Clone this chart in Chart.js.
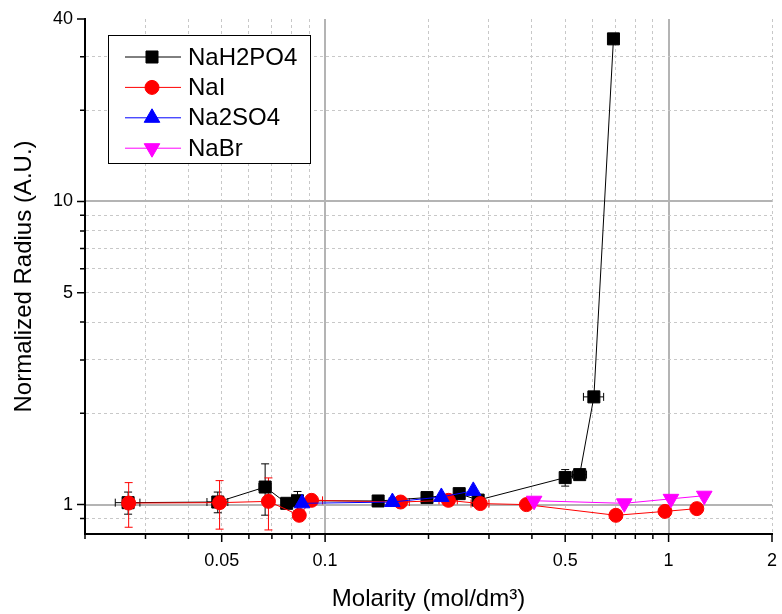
<!DOCTYPE html>
<html lang="en">
<head>
<meta charset="utf-8">
<title>Normalized Radius vs Molarity</title>
<script src="https://cdn.jsdelivr.net/npm/chart.js@4.4.1/dist/chart.umd.min.js"></script>
<style>
  html, body { margin: 0; padding: 0; background: #fff; }
  #box { width: 782px; height: 614px; }
</style>
</head>
<body>
<div id="box"><canvas id="radiusChart"></canvas></div>
<script>
// Ticks dos eixos (escala log)
const xTickValues = [0.02, 0.03, 0.04, 0.05, 0.06, 0.07, 0.08, 0.09, 0.1, 0.2, 0.3, 0.4, 0.5, 0.6, 0.7, 0.8, 0.9, 1, 2];
const xLabeled = [0.05, 0.1, 0.5, 1, 2];
const xDecades = [0.1, 1];
const yTickValues = [0.9, 1, 2, 3, 4, 5, 6, 7, 8, 9, 10, 20, 30, 40];
const yLabeled = [1, 5, 10, 40];
const yDecades = [1, 10];

// NaH2PO4
const naH2PO4X = [0.0267, 0.0487, 0.0669, 0.0773, 0.0831, 0.1427, 0.198, 0.2457, 0.279, 0.500, 0.551, 0.606, 0.691];
const naH2PO4Y = [1.015, 1.02, 1.143, 1.01, 1.03, 1.028, 1.055, 1.087, 1.035, 1.228, 1.256, 2.267, 34.4];
const naH2PO4XErr = [0.0022, 0.0034, 0.0027, 0, 0.002, 0, 0, 0, 0, 0, 0.026, 0.041, 0];
const naH2PO4YErr = [0.085, 0.08, 0.22, 0, 0.075, 0, 0, 0, 0, 0.077, 0, 0, 0];

// NaI
const naIX = [0.0268, 0.0493, 0.0684, 0.0841, 0.0913, 0.1659, 0.2286, 0.283, 0.3855, 0.7025, 0.976, 1.208];
const naIY = [1.012, 1.015, 1.025, 0.922, 1.033, 1.02, 1.033, 1.008, 1.0, 0.922, 0.95, 0.97];
const naIXErr = [0, 0, 0, 0, 0.007, 0.010, 0.014, 0.017, 0.006, 0, 0, 0];
const naIYErr = [0.17, 0.185, 0.2, 0, 0, 0, 0, 0, 0, 0, 0, 0];

// Na2SO4
const na2SO4X = [0.0857, 0.157, 0.218, 0.270];
const na2SO4Y = [1.01, 1.02, 1.06, 1.11];
const na2SO4XErr = [0, 0, 0, 0];
const na2SO4YErr = [0, 0.03, 0, 0];

// NaBr
const naBrX = [0.406, 0.743, 1.016, 1.27];
const naBrY = [1.03, 1.01, 1.045, 1.07];
const naBrXErr = [0, 0, 0, 0];
const naBrYErr = [0, 0, 0, 0];

const FONT = '"Liberation Sans", Arial, sans-serif';

function toPoints(xs, ys) {
    return xs.map((v, i) => ({ x: v, y: ys[i] }));
}

// Barras de erro desenhadas com as escalas do grafico
const errorBarsPlugin = {
    id: 'errorBars',
    beforeDatasetsDraw(chart) {
        const { ctx, scales: { x, y } } = chart;
        const cap = 4;
        ctx.save();
        ctx.lineWidth = 1;
        chart.data.datasets.forEach(ds => {
            ctx.strokeStyle = ds.borderColor;
            ctx.beginPath();
            ds.data.forEach((p, i) => {
                const px = x.getPixelForValue(p.x);
                const py = y.getPixelForValue(p.y);
                const ex = ds.errX[i];
                const ey = ds.errY[i];
                if (ex) {
                    const x1 = x.getPixelForValue(p.x - ex);
                    const x2 = x.getPixelForValue(p.x + ex);
                    ctx.moveTo(x1, py); ctx.lineTo(x2, py);
                    ctx.moveTo(x1, py - cap); ctx.lineTo(x1, py + cap);
                    ctx.moveTo(x2, py - cap); ctx.lineTo(x2, py + cap);
                }
                if (ey) {
                    const y1 = y.getPixelForValue(p.y + ey);
                    const y2 = y.getPixelForValue(p.y - ey);
                    ctx.moveTo(px, y1); ctx.lineTo(px, y2);
                    ctx.moveTo(px - cap, y1); ctx.lineTo(px + cap, y1);
                    ctx.moveTo(px - cap, y2); ctx.lineTo(px + cap, y2);
                }
            });
            ctx.stroke();
        });
        ctx.restore();
    }
};

// Marcas dos ticks (maiores nos valores com rotulo)
const tickMarksPlugin = {
    id: 'tickMarks',
    afterDraw(chart) {
        const { ctx, chartArea, scales: { x, y } } = chart;
        ctx.save();
        ctx.strokeStyle = '#000';
        ctx.lineWidth = 1.5;
        ctx.beginPath();
        x.ticks.forEach(t => {
            const px = x.getPixelForValue(t.value);
            const len = xLabeled.includes(t.value) ? 8 : 5;
            ctx.moveTo(px, chartArea.bottom);
            ctx.lineTo(px, chartArea.bottom + len);
        });
        y.ticks.forEach(t => {
            const py = y.getPixelForValue(t.value);
            const len = yLabeled.includes(t.value) ? 8 : 5;
            ctx.moveTo(chartArea.left, py);
            ctx.lineTo(chartArea.left - len, py);
        });
        ctx.stroke();
        ctx.restore();
    }
};

// Legenda em caixa dentro da area do grafico
const boxLegendPlugin = {
    id: 'boxLegend',
    afterDatasetsDraw(chart) {
        const { ctx, chartArea } = chart;
        const left = chartArea.left + 23;
        const top = chartArea.top + 16;
        ctx.save();
        ctx.fillStyle = '#fff';
        ctx.fillRect(left, top, 202, 128);
        ctx.strokeStyle = '#000';
        ctx.lineWidth = 1;
        ctx.strokeRect(left + 0.5, top + 0.5, 202, 128);
        ctx.font = '24px ' + FONT;
        ctx.textBaseline = 'middle';
        chart.data.datasets.forEach((ds, i) => {
            const yy = top + 22 + i * 30.4;
            ctx.strokeStyle = ds.borderColor;
            ctx.lineWidth = 1;
            ctx.beginPath();
            ctx.moveTo(left + 17, yy);
            ctx.lineTo(left + 73, yy);
            ctx.stroke();
            ctx.fillStyle = ds.backgroundColor;
            Chart.helpers.drawPoint(ctx, {
                pointStyle: ds.pointStyle,
                radius: ds.pointRadius,
                rotation: ds.pointRotation || 0,
                borderWidth: 1
            }, left + 44, yy);
            ctx.fillStyle = '#000';
            ctx.fillText(ds.label, left + 80, yy + 1);
        });
        ctx.restore();
    }
};

function gridColor(decades, hidden) {
    return ctx => {
        if (!ctx.tick) return 'rgba(0,0,0,0)';
        const v = ctx.tick.value;
        if (hidden.includes(v)) return 'rgba(0,0,0,0)';
        return decades.includes(v) ? '#b4b4b4' : '#c8c8c8';
    };
}

function gridWidth(decades) {
    return ctx => (ctx.tick && decades.includes(ctx.tick.value)) ? 2 : 1;
}

function gridDash(decades) {
    return ctx => (ctx.tick && !decades.includes(ctx.tick.value)) ? [3, 3] : [];
}

Chart.defaults.font.family = FONT;
Chart.defaults.color = '#000';

const ctx = document.getElementById('radiusChart').getContext('2d');

new Chart(ctx, {
    type: 'scatter',
    data: {
        datasets: [
            {
                label: 'NaH2PO4',
                data: toPoints(naH2PO4X, naH2PO4Y),
                errX: naH2PO4XErr,
                errY: naH2PO4YErr,
                borderColor: '#000000',
                backgroundColor: '#000000',
                pointStyle: 'rect',
                pointRadius: 8.5,
                order: 4
            },
            {
                label: 'NaI',
                data: toPoints(naIX, naIY),
                errX: naIXErr,
                errY: naIYErr,
                borderColor: '#ff0000',
                backgroundColor: '#ff0000',
                pointStyle: 'circle',
                pointRadius: 7,
                order: 3
            },
            {
                label: 'Na2SO4',
                data: toPoints(na2SO4X, na2SO4Y),
                errX: na2SO4XErr,
                errY: na2SO4YErr,
                borderColor: '#0000ff',
                backgroundColor: '#0000ff',
                pointStyle: 'triangle',
                pointRadius: 9,
                order: 2
            },
            {
                label: 'NaBr',
                data: toPoints(naBrX, naBrY),
                errX: naBrXErr,
                errY: naBrYErr,
                borderColor: '#ff00ff',
                backgroundColor: '#ff00ff',
                pointStyle: 'triangle',
                pointRotation: 180,
                pointRadius: 9,
                order: 1
            }
        ].map(ds => Object.assign({
            showLine: true,
            borderWidth: 1,
            pointBorderWidth: 1,
            pointBackgroundColor: ds.backgroundColor,
            pointBorderColor: ds.borderColor,
            pointHoverRadius: ds.pointRadius,
            tension: 0
        }, ds))
    },
    plugins: [errorBarsPlugin, tickMarksPlugin, boxLegendPlugin],
    options: {
        responsive: true,
        maintainAspectRatio: false,
        animation: false,
        layout: { padding: { top: 19, right: 7, left: 0, bottom: 0 } },
        scales: {
            x: {
                type: 'logarithmic',
                min: 0.02,
                max: 2,
                afterBuildTicks: scale => {
                    scale.ticks = xTickValues.map(v => ({ value: v }));
                },
                afterFit: scale => {
                    scale.height = 80;
                    scale.paddingLeft = 0;
                    scale.paddingRight = 0;
                },
                ticks: {
                    autoSkip: false,
                    maxRotation: 0,
                    padding: 16,
                    font: { size: 18 },
                    callback: v => xLabeled.includes(v) ? String(v) : ''
                },
                grid: {
                    drawTicks: false,
                    color: gridColor(xDecades, [0.02]),
                    lineWidth: gridWidth(xDecades)
                },
                border: { color: '#000', width: 2, dash: gridDash(xDecades) },
                title: {
                    display: true,
                    text: 'Molarity (mol/dm³)',
                    font: { size: 24 },
                    padding: { top: 0, bottom: 0 }
                }
            },
            y: {
                type: 'logarithmic',
                min: 0.8,
                max: 40,
                afterBuildTicks: scale => {
                    scale.ticks = yTickValues.map(v => ({ value: v }));
                },
                afterFit: scale => {
                    scale.width = 85;
                    scale.paddingTop = 0;
                    scale.paddingBottom = 0;
                },
                ticks: {
                    autoSkip: false,
                    padding: 12,
                    font: { size: 18 },
                    callback: v => yLabeled.includes(v) ? String(v) : ''
                },
                grid: {
                    drawTicks: false,
                    color: gridColor(yDecades, [40]),
                    lineWidth: gridWidth(yDecades)
                },
                border: { color: '#000', width: 2, dash: gridDash(yDecades) },
                title: {
                    display: true,
                    text: 'Normalized Radius (A.U.)',
                    font: { size: 24 },
                    padding: { top: 10, bottom: 0 }
                }
            }
        },
        plugins: {
            legend: { display: false },
            tooltip: { enabled: false }
        }
    }
});
</script>
</body>
</html>
